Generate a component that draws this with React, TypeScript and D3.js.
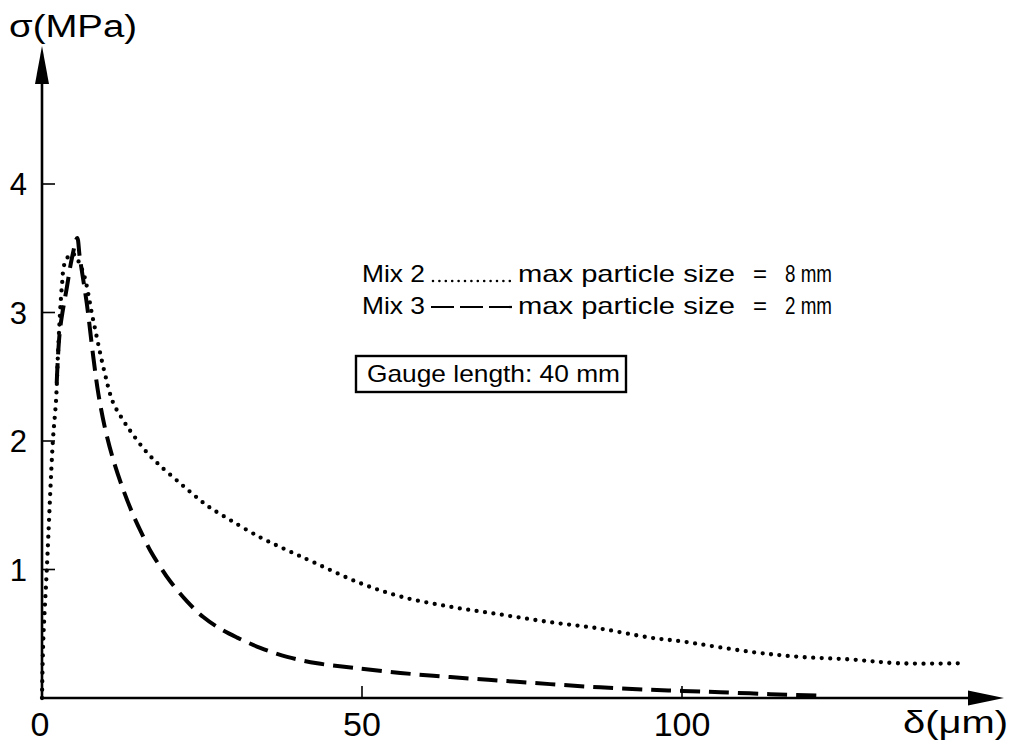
import React from "react";
import * as d3 from "d3";

// Mix 2 (dotted) : delta (µm), sigma (MPa)
const mix2Delta = [0, 0.2, 0.75, 1.7, 2.2, 2.5, 3.1, 3.6, 4.7, 6.3, 8.0, 9.7, 11.1, 12.7, 14.2, 16.4, 18.4, 21.6, 24.2, 26, 29.4, 34.1, 38.3, 42.7, 49.4, 56, 63.8, 71.6, 79.4, 87.2, 95, 100, 110.6, 118.4, 126.3, 134, 143.5];
const mix2Sigma = [0, 0.45, 1.0, 2.0, 2.32, 2.68, 3.2, 3.39, 3.46, 3.33, 2.94, 2.55, 2.3, 2.16, 2.05, 1.91, 1.81, 1.67, 1.56, 1.49, 1.385, 1.25, 1.15, 1.05, 0.9, 0.79, 0.71, 0.65, 0.59, 0.54, 0.47, 0.44, 0.36, 0.32, 0.3, 0.27, 0.27];

// Mix 3 (dashed)
const mix3Delta = [2.3, 2.8, 3.9, 4.7, 5.5, 5.9, 7.0, 8.0, 8.8, 9.8, 11.1, 12.7, 14.2, 15.3, 17.0, 18.5, 20, 22.7, 25.2, 27.8, 30.5, 34.1, 38.3, 43, 48.6, 56, 63.8, 71.6, 79.4, 87.2, 95, 100, 106, 113.8, 121];
const mix3Sigma = [2.45, 2.86, 3.2, 3.43, 3.58, 3.43, 3.07, 2.66, 2.37, 2.11, 1.86, 1.62, 1.43, 1.31, 1.14, 1.02, 0.91, 0.75, 0.63, 0.54, 0.47, 0.39, 0.32, 0.27, 0.235, 0.195, 0.163, 0.135, 0.108, 0.083, 0.064, 0.055, 0.045, 0.03, 0.02];

const xTicks = [0, 50, 100];
const yTicks = [1, 2, 3, 4];

const FONT = "'Liberation Sans', Arial, sans-serif";

export default function App() {
  const x = d3.scaleLinear().domain([0, 100]).range([42, 682]);
  const y = d3.scaleLinear().domain([0, 4]).range([698, 184]);

  const line = d3
    .line<[number, number]>()
    .x((d) => x(d[0]))
    .y((d) => y(d[1]))
    .curve(d3.curveCatmullRom.alpha(0.5));

  const mix2 = mix2Delta.map((d, i) => [d, mix2Sigma[i]] as [number, number]);
  const mix3 = mix3Delta.map((d, i) => [d, mix3Sigma[i]] as [number, number]);

  const x0 = x(0);
  const y0 = y(0);

  return (
    <svg
      width={1014}
      height={745}
      style={{ position: "fixed", left: 0, top: 0, background: "#fff" }}
      fontFamily={FONT}
    >
      <rect x={0} y={0} width={1014} height={745} fill="#fff" />

      {/* axes */}
      <line x1={x0} y1={y0} x2={x0} y2={80} stroke="#000" strokeWidth={2.6} />
      <polygon points={`${x0},46 ${x0 - 7},84 ${x0 + 7},84`} fill="#000" />
      <line x1={x0} y1={y0} x2={972} y2={y0} stroke="#000" strokeWidth={2.6} />
      <polygon points={`1004,${y0} 968,${y0 - 7.5} 968,${y0 + 7.5}`} fill="#000" />

      {/* y ticks */}
      {yTicks.map((t) => (
        <g key={"y" + t}>
          <line x1={x0} x2={x0 + 13} y1={y(t)} y2={y(t)} stroke="#000" strokeWidth={1.6} />
          <text x={27} y={y(t) + 11} fontSize={31} textAnchor="end" fill="#000">
            {t}
          </text>
        </g>
      ))}

      {/* x ticks */}
      {xTicks.map((t) => (
        <g key={"x" + t}>
          {t !== 0 && (
            <line x1={x(t)} x2={x(t)} y1={y0} y2={y0 - 12} stroke="#000" strokeWidth={1.6} />
          )}
          <text x={x(t) - (t === 0 ? 2 : 0)} y={736} fontSize={34} textAnchor="middle" fill="#000">
            {t}
          </text>
        </g>
      ))}

      {/* axis labels */}
      <text x={9} y={37} fontSize={31} fill="#000" textLength={128} lengthAdjust="spacingAndGlyphs">
        σ(MPa)
      </text>
      <text x={903} y={733} fontSize={31} fill="#000" textLength={105} lengthAdjust="spacingAndGlyphs">
        δ(μm)
      </text>

      {/* curves */}
      <path
        d={line(mix2) || ""}
        fill="none"
        stroke="#000"
        strokeWidth={4.3}
        strokeLinecap="round"
        strokeDasharray="0 8.5"
      />
      <path
        d={line(mix3) || ""}
        fill="none"
        stroke="#000"
        strokeWidth={4}
        strokeDasharray="20 9"
      />

      {/* legend */}
      <text x={362} y={282} fontSize={24} fill="#000" textLength={63} lengthAdjust="spacingAndGlyphs">
        Mix 2
      </text>
      <line x1={433} x2={510} y1={281} y2={281} stroke="#000" strokeWidth={2.6} strokeLinecap="round" strokeDasharray="0 6.4" />
      <text x={518} y={282} fontSize={24} fill="#000" textLength={217} lengthAdjust="spacingAndGlyphs">
        max particle size
      </text>
      <text x={753} y={282} fontSize={24} fill="#000">=</text>
      <text x={785} y={282} fontSize={24} fill="#000" textLength={47} lengthAdjust="spacingAndGlyphs">
        8 mm
      </text>

      <text x={362} y={314} fontSize={24} fill="#000" textLength={63} lengthAdjust="spacingAndGlyphs">
        Mix 3
      </text>
      <line x1={431} x2={512} y1={307} y2={307} stroke="#000" strokeWidth={2.2} strokeDasharray="23 6" />
      <text x={518} y={314} fontSize={24} fill="#000" textLength={217} lengthAdjust="spacingAndGlyphs">
        max particle size
      </text>
      <text x={753} y={314} fontSize={24} fill="#000">=</text>
      <text x={785} y={314} fontSize={24} fill="#000" textLength={47} lengthAdjust="spacingAndGlyphs">
        2 mm
      </text>

      <rect x={356} y={356} width={270} height={36} fill="none" stroke="#000" strokeWidth={2.4} />
      <text x={367} y={382} fontSize={24} fill="#000" textLength={253} lengthAdjust="spacingAndGlyphs">
        Gauge length: 40 mm
      </text>
    </svg>
  );
}
